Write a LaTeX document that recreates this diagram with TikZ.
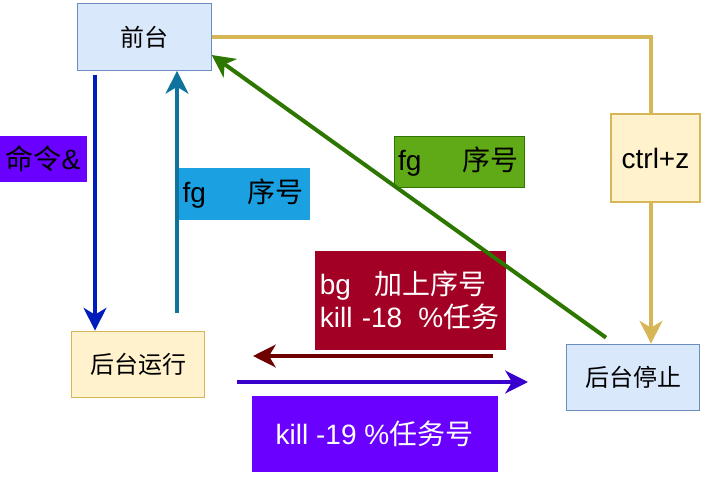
\documentclass[tikz,border=0pt]{standalone}
\usepackage{fontspec}
\setmainfont{Liberation Sans}
\newfontfamily\cjk{Noto Sans CJK SC}
\usetikzlibrary{arrows.meta}
\usetikzlibrary{calc}
\definecolor{bluefill}{HTML}{DAE8FC}
\definecolor{blueline}{HTML}{6C8EBF}
\definecolor{yellowfill}{HTML}{FFF2CC}
\definecolor{yellowline}{HTML}{D6B656}
\definecolor{violetfill}{HTML}{6A00FF}
\definecolor{violetline}{HTML}{3700CC}
\definecolor{cyanfill}{HTML}{1BA1E2}
\definecolor{cyanline}{HTML}{10739E}
\definecolor{greenfill}{HTML}{60A917}
\definecolor{greenline}{HTML}{2D7600}
\definecolor{redfill}{HTML}{A20025}
\definecolor{redline}{HTML}{6F0000}
\definecolor{cobalt}{HTML}{001DBC}
\newcommand{\zh}[1]{{\cjk #1}}
\tikzset{
  statebox/.style={draw,line width=0.8pt,inner sep=0pt,minimum width=100pt,minimum height=50pt,font=\fontsize{18}{21}\selectfont},
  tagbox/.style={draw,line width=0.6pt,inner sep=3pt,font=\fontsize{21}{25}\selectfont},
  flow/.style={line width=3pt,-{Stealth[length=17pt,width=17pt,inset=5pt]}},
}

\begin{document}
\begin{tikzpicture}[x=0.75pt,y=-0.75pt]
\useasboundingbox (0,0) rectangle (709,477);
\node[statebox,fill=bluefill,draw=blueline] (qt) at (144.5,37) {\zh{前台}};
\node[statebox,fill=yellowfill,draw=yellowline] (hr) at (138,364.5) {\zh{后台运行}};
\node[statebox,fill=bluefill,draw=blueline] (ht) at (633,377.5) {\zh{后台停止}};
\node[statebox,fill=yellowfill,draw=yellowline,minimum width=66.75pt,minimum height=66pt,font=\fontsize{21}{25}\selectfont] (cz) at (655.5,158) {ctrl+z};

\node[tagbox,fill=violetfill,draw=violetfill,minimum width=64.5pt,minimum height=33.75pt,inner sep=1pt] (cmd) at (43,158.5) {\zh{命令}\&};
\node[tagbox,fill=cyanfill,draw=cyanfill,minimum height=38.25pt,text width=92pt,align=left] (fgb) at (244,193.5) {fg\hspace{31pt}\zh{序号}};
\node[tagbox,fill=greenfill,draw=greenline,minimum height=38.25pt,text width=92pt,align=left] (fgg) at (459.5,161.5) {fg\hspace{31pt}\zh{序号}};
\node[tagbox,fill=redfill,draw=redfill,text=white,minimum height=73.5pt,text width=136pt,align=left] (bg) at (410.5,300) {bg\hspace{18pt}\zh{加上序号}\\kill -18\hspace{12pt}\%\zh{任务}};
\node[tagbox,fill=violetfill,draw=violetfill,text=white,minimum width=183.75pt,minimum height=56.25pt] (kl) at (374.5,433.5) {kill -19 \%\zh{任务号}};

\draw[flow,draw=cobalt] ($(qt.south)+(-49.5,4)$) -- ($(hr.north)+(-43,0)$);
\draw[flow,draw=cyanline] ($(hr.north)+(39,-18)$) -- ($(qt.south)+(32.5,0)$);
\draw[flow,draw=greenline] ($(ht.north)+(-27,-6)$) -- ($(qt.east)+(0,18)$);
\coordinate (zx) at ($(cz.north)+(-4.5,0)$);
\draw[line width=3pt,draw=yellowline] (qt.east) -| (zx);
\coordinate (zy) at ($(cz.south)+(-4.5,0)$);
\draw[flow,draw=yellowline] (zy) -- (zy |- ht.north);
\coordinate (bgs) at (493,356);
\coordinate (bge) at (253,356);
\draw[flow,draw=redline] (bgs) -- (bge);
\coordinate (kls) at (237,382);
\coordinate (kle) at (528,382);
\draw[flow,draw=violetline] (kls) -- (kle);
\end{tikzpicture}
\end{document}
